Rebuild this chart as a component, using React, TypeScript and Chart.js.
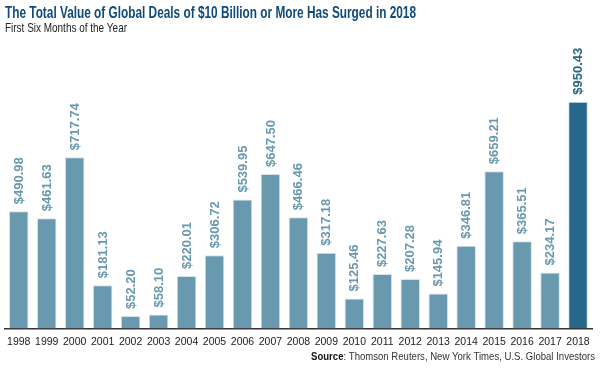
import React, { useEffect, useRef } from "react";
import { Chart, registerables } from "chart.js";

Chart.register(...registerables);

const years = ["1998","1999","2000","2001","2002","2003","2004","2005","2006","2007","2008","2009","2010","2011","2012","2013","2014","2015","2016","2017","2018"];
const values = [490.98,461.63,717.74,181.13,52.20,58.10,220.01,306.72,539.95,647.50,466.46,317.18,125.46,227.63,207.28,145.94,346.81,659.21,365.51,234.17,950.43];
const titleText = "The Total Value of Global Deals of $10 Billion or More Has Surged in 2018";
const subtitleText = "First Six Months of the Year";
const sourceBold = "Source";
const sourceRest = ": Thomson Reuters, New York Times, U.S. Global Investors";

const BAR = "#6899ae";
const BAR_HI = "#27678a";
const TITLE = "#0f4a7c";

function drawFitted(ctx: CanvasRenderingContext2D, text: string, x: number, y: number, width: number, font: string, color: string) {
  ctx.save();
  ctx.font = font;
  const w = ctx.measureText(text).width;
  const sx = Math.min(1, width / w);
  ctx.translate(x, y);
  ctx.scale(sx, 1);
  ctx.fillStyle = color;
  ctx.textAlign = "left";
  ctx.textBaseline = "middle";
  ctx.fillText(text, 0, 0);
  ctx.restore();
}

const annotPlugin = {
  id: "annot",
  afterDraw(chart: any) {
    const ctx: CanvasRenderingContext2D = chart.ctx;
    drawFitted(ctx, titleText, 5, 13, 411, "bold 17px 'Liberation Sans', Arial, sans-serif", TITLE);
    drawFitted(ctx, subtitleText, 5, 28, 122, "13px 'Liberation Sans', Arial, sans-serif", "#222");
    // source
    ctx.save();
    const fb = "bold 11px 'Liberation Sans', Arial, sans-serif";
    const fr = "11px 'Liberation Sans', Arial, sans-serif";
    ctx.font = fb;
    const wb = ctx.measureText(sourceBold).width;
    ctx.font = fr;
    const wr = ctx.measureText(sourceRest).width;
    const total = wb + wr;
    const target = 284;
    const sx = Math.min(1, target / total);
    ctx.translate(595 - total * sx, 357);
    ctx.scale(sx, 1);
    ctx.textBaseline = "middle";
    ctx.textAlign = "left";
    ctx.fillStyle = "#111";
    ctx.font = fb;
    ctx.fillText(sourceBold, 0, 0);
    ctx.fillStyle = "#333";
    ctx.font = fr;
    ctx.fillText(sourceRest, wb, 0);
    ctx.restore();
  },
  afterDatasetsDraw(chart: any) {
    const ctx: CanvasRenderingContext2D = chart.ctx;
    const meta = chart.getDatasetMeta(0);
    meta.data.forEach((bar: any, i: number) => {
      const label = "$" + values[i].toFixed(2);
      ctx.save();
      ctx.translate(bar.x + 0.5, bar.y - 7);
      ctx.rotate(-Math.PI / 2);
      ctx.font = "bold 13px 'Liberation Sans', Arial, sans-serif";
      const w = ctx.measureText(label).width;
      const sx = Math.min(1, (label.length === 7 ? 49 : 42) / w);
      ctx.scale(sx, 1);
      ctx.fillStyle = i === values.length - 1 ? BAR_HI : BAR;
      ctx.textAlign = "left";
      ctx.textBaseline = "middle";
      ctx.fillText(label, 0, 0);
      ctx.restore();
    });
  },
};

export default function App() {
  const ref = useRef<HTMLCanvasElement | null>(null);
  useEffect(() => {
    document.body.style.margin = "0";
    const chart = new Chart(ref.current!, {
      type: "bar",
      data: {
        labels: years,
        datasets: [
          {
            data: values,
            backgroundColor: values.map((_, i) => (i === values.length - 1 ? BAR_HI : BAR)),
            borderColor: "#d4e3ea",
            borderWidth: 1,
            barPercentage: 0.7,
            categoryPercentage: 1,
          },
        ],
      },
      options: {
        animation: false,
        responsive: false,
        maintainAspectRatio: false,
        layout: { padding: { top: 66, left: 4, right: 8, bottom: 13 } },
        plugins: { legend: { display: false }, title: { display: false }, tooltip: { enabled: false } },
        scales: {
          y: { display: false, min: 0, max: 1100 },
          x: {
            grid: { display: false, drawTicks: false },
            border: { display: true, color: "#333", width: 1.5 },
            ticks: {
              color: "#222",
              font: { size: 10.5, family: "'Liberation Sans', Arial, sans-serif" },
              padding: 7,
              maxRotation: 0,
              autoSkip: false,
            },
          },
        },
      },
      plugins: [annotPlugin],
    });
    return () => chart.destroy();
  }, []);
  return (
    <div style={{ position: "absolute", left: 0, top: 0, width: 600, height: 368 }}>
      <canvas ref={ref} width={600} height={368} style={{ width: 600, height: 368 }} />
    </div>
  );
}
